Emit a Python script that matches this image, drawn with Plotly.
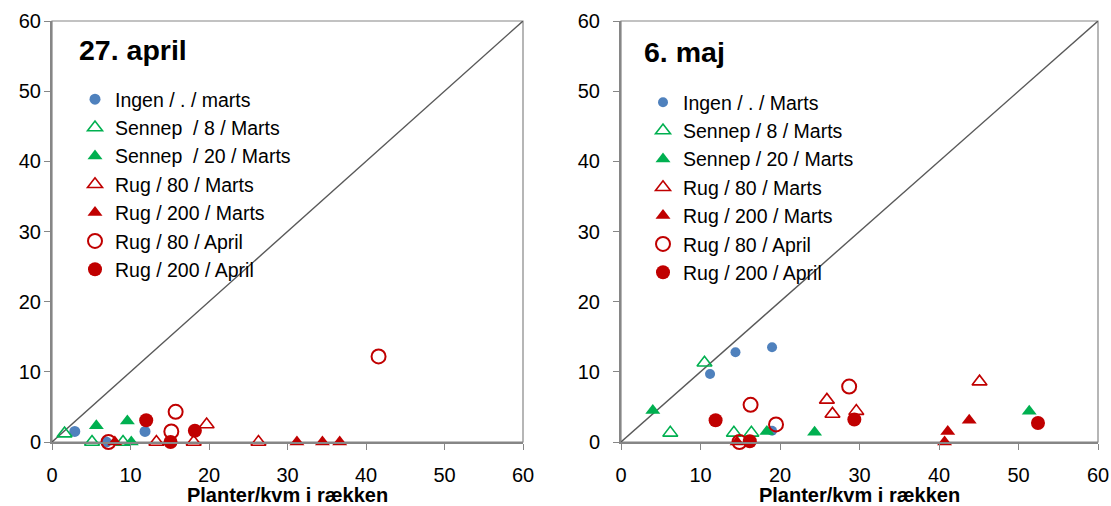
import plotly.graph_objects as go

# ---------------- data ----------------
series_names_left = ["Ingen / . / marts", "Sennep  / 8 / Marts", "Sennep  / 20 / Marts",
                     "Rug / 80 / Marts", "Rug / 200 / Marts", "Rug / 80 / April", "Rug / 200 / April"]
series_names_right = ["Ingen / . / Marts", "Sennep / 8 / Marts", "Sennep / 20 / Marts",
                      "Rug / 80 / Marts", "Rug / 200 / Marts", "Rug / 80 / April", "Rug / 200 / April"]

# 27. april (left panel)
ingen_x_a = [2.9, 6.9, 11.85]
ingen_y_a = [1.5, 0.0, 1.5]
sennep8_x_a = [1.6, 5.1, 9.05]
sennep8_y_a = [1.2, 0.0, 0.0]
sennep20_x_a = [5.65, 9.6, 10.1]
sennep20_y_a = [2.3, 3.0, 0.0]
rug80m_x_a = [13.3, 18.05, 19.7, 26.3]
rug80m_y_a = [0.0, 0.0, 2.5, 0.0]
rug200m_x_a = [8.0, 31.2, 34.45, 36.65]
rug200m_y_a = [0.0, 0.0, 0.0, 0.0]
rug80a_x_a = [7.2, 15.2, 15.75, 41.6]
rug80a_y_a = [0.0, 1.5, 4.3, 12.2]
rug200a_x_a = [12.0, 15.1, 18.2]
rug200a_y_a = [3.1, 0.0, 1.6]

# 6. maj (right panel)
ingen_x_m = [11.2, 14.4, 19.0, 19.0]
ingen_y_m = [9.7, 12.8, 13.5, 1.6]
sennep8_x_m = [6.2, 10.5, 14.2, 16.4]
sennep8_y_m = [1.3, 11.3, 1.3, 1.3]
sennep20_x_m = [4.0, 18.35, 24.35, 51.35]
sennep20_y_m = [4.5, 1.5, 1.4, 4.4]
rug80m_x_m = [25.9, 26.6, 29.6, 45.1]
rug80m_y_m = [6.0, 4.0, 4.4, 8.6]
rug200m_x_m = [14.6, 40.7, 41.1, 43.8]
rug200m_y_m = [0.0, 0.0, 1.5, 3.1]
rug80a_x_m = [14.9, 16.3, 19.5, 28.7]
rug80a_y_m = [0.0, 5.3, 2.5, 7.9]
rug200a_x_m = [11.9, 16.2, 29.35, 52.45]
rug200a_y_m = [3.1, 0.1, 3.2, 2.7]

diag = [0, 60]
ticks = [0, 10, 20, 30, 40, 50, 60]
panel_titles = ["27. april", "6. maj"]
x_title = "Planter/kvm i rækken"

# ---------------- style ----------------
BLUE = "#4F81BD"
GREEN = "#00B050"
RED = "#C00000"
AXIS = "#868686"
FONT = "Arial, Liberation Sans, sans-serif"

styles = [
    dict(symbol="circle", size=11, color=BLUE, line=dict(width=0)),
    dict(symbol="triangle-up-open", size=13, color=GREEN, line=dict(width=1.6, color=GREEN)),
    dict(symbol="triangle-up", size=13, color=GREEN, line=dict(width=0)),
    dict(symbol="triangle-up-open", size=13, color=RED, line=dict(width=1.6, color=RED)),
    dict(symbol="triangle-up", size=13, color=RED, line=dict(width=0)),
    dict(symbol="circle-open", size=14, color=RED, line=dict(width=2, color=RED)),
    dict(symbol="circle", size=14, color=RED, line=dict(width=0)),
]

left_data = [(ingen_x_a, ingen_y_a), (sennep8_x_a, sennep8_y_a), (sennep20_x_a, sennep20_y_a),
             (rug80m_x_a, rug80m_y_a), (rug200m_x_a, rug200m_y_a), (rug80a_x_a, rug80a_y_a),
             (rug200a_x_a, rug200a_y_a)]
right_data = [(ingen_x_m, ingen_y_m), (sennep8_x_m, sennep8_y_m), (sennep20_x_m, sennep20_y_m),
              (rug80m_x_m, rug80m_y_m), (rug200m_x_m, rug200m_y_m), (rug80a_x_m, rug80a_y_m),
              (rug200a_x_m, rug200a_y_m)]

fig = go.Figure()

# 1:1 lines
for xa, ya in [("x", "y"), ("x2", "y2")]:
    fig.add_trace(go.Scatter(x=diag, y=diag, mode="lines", xaxis=xa, yaxis=ya,
                             line=dict(color="#595959", width=1.4), showlegend=False,
                             hoverinfo="skip"))

for (xs, ys), name, st in zip(left_data, series_names_left, styles):
    fig.add_trace(go.Scatter(x=xs, y=ys, mode="markers", name=name, xaxis="x", yaxis="y",
                             marker=st, legend="legend", cliponaxis=False))
for (xs, ys), name, st in zip(right_data, series_names_right, styles):
    st2 = dict(st)
    if st2["symbol"] == "circle" and st2["color"] == BLUE:
        st2["size"] = 10
    fig.add_trace(go.Scatter(x=xs, y=ys, mode="markers", name=name, xaxis="x2", yaxis="y2",
                             marker=st2, legend="legend2", cliponaxis=False))

W, H = 1111, 506
ml, mr, mt, mb = 52, 13, 21, 64
pw = W - ml - mr
ph = H - mt - mb

def px_x(p):  # page pixel -> paper fraction
    return (p - ml) / pw

def px_y(p):
    return (H - mb - p) / ph

axis_common = dict(range=[0, 60], tickvals=ticks, showgrid=False, zeroline=False,
                   showline=True, linecolor=AXIS, linewidth=2, ticks="outside",
                   ticklen=6, tickwidth=1.3, tickcolor=AXIS,
                   tickfont=dict(family=FONT, size=20, color="#000000"))

xtitle = dict(text=x_title, font=dict(family=FONT, size=20, color="#000000", weight="bold"),
              standoff=5)

legend_common = dict(font=dict(family=FONT, size=19.5, color="#000000"),
                     bgcolor="rgba(0,0,0,0)", borderwidth=0, xanchor="left", yanchor="top",
                     itemclick=False, tracegroupgap=0)

fig.update_layout(
    width=W, height=H,
    margin=dict(l=ml, r=mr, t=mt, b=mb, autoexpand=False),
    paper_bgcolor="white", plot_bgcolor="white",
    xaxis=dict(axis_common, domain=[0, px_x(523)], anchor="y", title=xtitle,
               ticklabelstandoff=8),
    yaxis=dict(axis_common, domain=[0, 1], anchor="x", ticklabelstandoff=-1),
    xaxis2=dict(axis_common, domain=[px_x(621), 1], anchor="y2", title=xtitle,
                ticklabelstandoff=8),
    yaxis2=dict(axis_common, domain=[0, 1], anchor="x2", ticklabelstandoff=9),
    legend=dict(legend_common, x=px_x(75), y=px_y(80)),
    legend2=dict(legend_common, x=px_x(643), y=px_y(83)),
    showlegend=True,
)

# plot-area frame (top/right edges)
for xr, yr in [("x domain", "y domain"), ("x2 domain", "y2 domain")]:
    fig.add_shape(type="rect", xref=xr, yref=yr, x0=0, x1=1, y0=0, y1=1,
                  line=dict(color=AXIS, width=1.2), layer="below")

# panel titles
fig.add_annotation(text=panel_titles[0], xref="x domain", yref="y domain", x=0.053, y=0.932,
                   xanchor="left", yanchor="middle", showarrow=False,
                   font=dict(family=FONT, size=28.5, color="#000000", weight="bold"))
fig.add_annotation(text=panel_titles[1], xref="x2 domain", yref="y2 domain", x=0.044, y=0.926,
                   xanchor="left", yanchor="middle", showarrow=False,
                   font=dict(family=FONT, size=28.5, color="#000000", weight="bold"))

fig.write_html("out.html", config={"displayModeBar": False},
               post_script="document.body.style.margin='0';document.body.style.overflow='hidden';")
